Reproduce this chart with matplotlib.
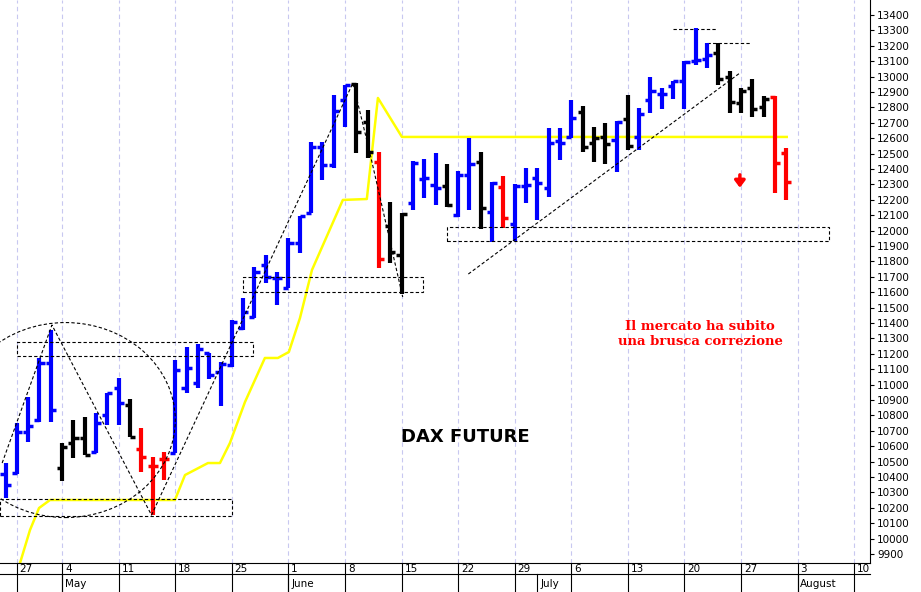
import matplotlib
matplotlib.use("Agg")
import matplotlib.pyplot as plt
from matplotlib.patches import Rectangle, Ellipse
import matplotlib.transforms as mtransforms

opens = [10420,10425,10694,10770,11140,10456,10618,10651,10565,10802,10975,10867,10579,10471,10514,
         10558,10976,11008,11203,11084,11127,11365,11441,11777,11690,
         11625,11917,12112,12545,12426,12848,12950,12707,12448,12030,11841,12181,12333,12296,12290,
         12101,12361,12448,12123,12281,12043,12290,12339,
         12275,12580,12606,12773,12567,12606,12589,12723,12610,12848,12887,12939,12968,13104,13112,
         13152,13000,12827,12924,12805,12870,12506]
highs = [10488,10748,10921,11170,11354,10623,10770,10791,10813,10943,11045,10904,10716,10527,10564,
         11160,11246,11261,11203,11149,11419,11560,11766,11842,11733,
         11950,12095,12577,12577,12881,12946,12956,12783,12513,12188,12116,12454,12463,12506,12430,
         12387,12599,12513,12318,12355,12300,12404,12404,
         12664,12664,12848,12809,12675,12701,12714,12881,12794,12999,12924,12974,13104,13314,13216,
         13216,13039,12924,12983,12874,12874,12535]
lows = [10261,10419,10629,10759,10759,10374,10521,10543,10558,10737,10737,10662,10434,10153,10380,
        10558,10943,10976,11034,10861,11116,11354,11430,11658,11517,
        11625,11852,12112,12329,12404,12675,12502,12469,11755,11792,11588,12134,12209,12166,12155,
        12090,12134,12008,11928,12015,11935,12177,12069,
        12221,12459,12599,12513,12448,12433,12383,12524,12524,12762,12788,12853,12788,13076,13054,
        12946,12762,12762,12736,12740,12242,12199]
closes = [10348,10694,10731,11138,10835,10597,10651,10543,10748,10943,10878,10662,10527,10471,10514,
          11095,11105,11229,11062,11134,11408,11473,11733,11701,11690,
          11917,12095,12540,12426,12779,12946,12642,12513,11813,11863,12108,12441,12339,12274,12166,
          12361,12432,12145,12311,12080,12290,12296,12307,
          12571,12570,12729,12541,12599,12563,12708,12550,12758,12903,12887,12972,13097,13108,13141,
          12983,12838,12903,12788,12853,12441,12318]
bar_colors = list("bbbbbkkkbbbkrrr" "bbbbbbbbbb" "bbbbbbkkrkkbbbkbbkbrbbb" "bbbkkkbkbbbbbbbkkkkkrr")

yellow_x = [1.28,2.16,2.96,3.93,14.97,15.86,17.89,18.95,19.83,21.16,22.92,24.07,25.04,26.02,27.08,
            29.81,31.93,32.91,35.03,69.04]
yellow_y = [9842,10056,10199,10251,10251,10413,10491,10491,10621,10887,11173,11173,11212,11432,11744,
            12199,12205,12861,12608,12608]

day_labels = ["27","4","11","18","25","1","8","15","22","29","6","13","20","27","3","10"]
month_labels = [("May", 5), ("June", 25), ("July", 47), ("August", 70)]

cmap = {"b": "#0000ff", "k": "#000000", "r": "#ff0000"}

fig = plt.figure(figsize=(9.21, 5.92), dpi=100)
ax = fig.add_axes([0, 29/592, 870/921, 563/592])
ax.set_xlim(-0.49, 76.4)
ax.set_ylim(9842, 13497)

tick_pos = [1.0] + list(range(5, 80, 5))
for d in tick_pos:
    ax.axvline(d, color="#c8c8f0", lw=0.8, ls=(0, (4, 3)), zorder=0)

ax.plot(yellow_x, yellow_y, color="#ffff00", lw=1.8, zorder=2)

for i, (o, h, l, c, col) in enumerate(zip(opens, highs, lows, closes, bar_colors)):
    cc = cmap[col]
    ax.plot([i, i], [l, h], color=cc, lw=3, solid_capstyle="butt", zorder=3)
    ax.plot([i - 0.45, i], [o, o], color=cc, lw=2.5, solid_capstyle="butt", zorder=3)
    ax.plot([i, i + 0.45], [c, c], color=cc, lw=2.5, solid_capstyle="butt", zorder=3)

dash = dict(fill=False, ls=(0, (3, 2)), lw=0.8, ec="black", zorder=4)
ax.add_patch(Rectangle((-0.49, 10147), 20.5, 110, **dash))
ax.add_patch(Rectangle((1.0, 11186), 20.9, 91, **dash))
ax.add_patch(Rectangle((21.0, 11601), 15.9, 98, **dash))
ax.add_patch(Rectangle((39.0, 11932), 33.8, 91, **dash))
ax.plot([59.0, 62.9], [13309, 13309], color="black", lw=0.8, ls=(0, (3, 2)))
ax.plot([62.0, 65.9], [13218, 13218], color="black", lw=0.8, ls=(0, (3, 2)))
lk = dict(color="black", lw=0.8, ls=(0, (3, 2)), zorder=4)
ax.plot([-0.3, 4.1, 12.9, 30.7, 32.2, 35.1], [10491, 11387, 10153, 12958, 12504, 11569], **lk)
ax.plot([40.9, 64.9], [11718, 13023], **lk)
ax.add_patch(Ellipse((5.3, 10770), 19.4, 1266, fill=False, ls=(0, (3, 2)), lw=0.8, ec="black", zorder=4))

ax.annotate("", xy=(64.9, 12260), xytext=(64.9, 12380),
            arrowprops=dict(arrowstyle="-|>,head_width=0.3,head_length=0.4", color="#ff0000", lw=2.5))
ax.text(61.4, 11330, "Il mercato ha subito\nuna brusca correzione", color="#ff0000",
        fontsize=9.5, fontweight="bold", ha="center", va="center", family="DejaVu Serif")
ax.text(40.6, 10660, "DAX FUTURE", color="black", fontsize=13, fontweight="bold", ha="center", va="center")

ax.yaxis.tick_right()
ax.set_yticks(range(9900, 13401, 100))
ax.tick_params(axis="y", labelsize=7.5, direction="out", length=3, pad=2)
ax.set_xticks([])
for s in ["top", "left"]:
    ax.spines[s].set_visible(False)

trans = mtransforms.blended_transform_factory(ax.transData, fig.transFigure)
for d, lab in zip(tick_pos, day_labels):
    ax.plot([d, d], [0.0, 29/592], transform=trans, color="black", lw=0.8, clip_on=False)
    ax.text(d + 0.25, 23/592, lab, transform=trans, fontsize=7.5, ha="left", va="center")
for lab, d in month_labels:
    ax.plot([d, d], [0.0, 18/592], transform=trans, color="black", lw=0.8, clip_on=False)
    ax.text(d + 0.25, 8/592, lab, transform=trans, fontsize=7.5, ha="left", va="center")
fig.add_artist(plt.Line2D([0, 870/921], [18/592, 18/592], color="black", lw=0.8))

fig.savefig("out.png", dpi=100)
